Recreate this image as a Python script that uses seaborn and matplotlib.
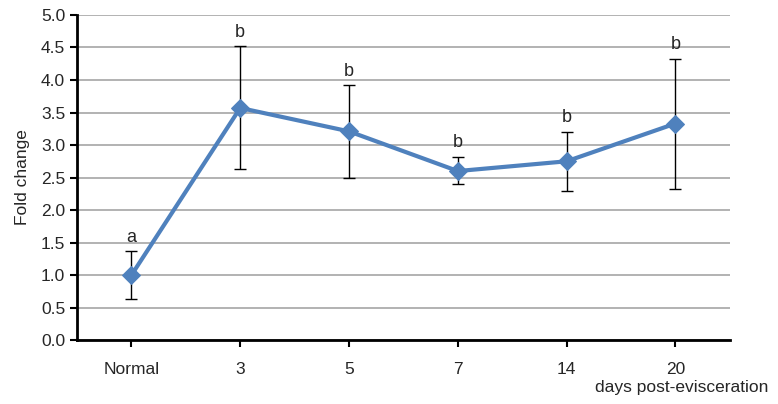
import pandas as pd
import numpy as np
import matplotlib.pyplot as plt
import seaborn as sns

groups = ['Normal', '3', '5', '7', '14', '20']
fold_change = [1.00, 3.57, 3.21, 2.60, 2.75, 3.33]
err_low = [0.37, 0.94, 0.71, 0.20, 0.45, 1.00]
err_high = [0.37, 0.95, 0.71, 0.22, 0.45, 1.00]
letters = ['a', 'b', 'b', 'b', 'b', 'b']

sns.set_style('white')
plt.rcParams['font.family'] = ['Liberation Sans', 'DejaVu Sans']

df = pd.DataFrame({'pos': np.arange(len(groups)), 'fold': fold_change})

fig, ax = plt.subplots(figsize=(7.78, 4.04), dpi=100)
fig.subplots_adjust(left=0.099, right=0.938, top=0.963, bottom=0.158)

ax.yaxis.grid(True, color='#a6a6a6', linewidth=1.2)
ax.set_axisbelow(True)

ax.errorbar(df['pos'], df['fold'], yerr=[err_low, err_high], fmt='none',
            ecolor='black', elinewidth=1, capsize=4, capthick=1, zorder=2)
sns.lineplot(data=df, x='pos', y='fold', marker='D', markersize=9,
             color='#4f81bd', markeredgecolor='#4f81bd', linewidth=3, ax=ax, zorder=3)

for i, lab in enumerate(letters):
    ax.annotate(lab, (df['pos'][i], fold_change[i] + err_high[i]),
                xytext=(0, 4), textcoords='offset points',
                ha='center', va='bottom', fontsize=13)

ax.set_xlim(-0.5, 5.5)
ax.set_ylim(0, 5.0)
ax.set_yticks(np.arange(0, 5.01, 0.5))
ax.set_yticklabels([f'{v:.1f}' for v in np.arange(0, 5.01, 0.5)], fontsize=12.5)
ax.set_xticks(df['pos'])
ax.set_xticklabels(groups, fontsize=12.5)
ax.tick_params(axis='both', direction='out', length=5, width=1.5, color='black',
               bottom=True, left=True)
ax.tick_params(axis='x', pad=11)

for s in ['top', 'right']:
    ax.spines[s].set_visible(False)
for s in ['left', 'bottom']:
    ax.spines[s].set_color('black')
    ax.spines[s].set_linewidth(2)

ax.set_xlabel('')
ax.set_ylabel('Fold change', fontsize=12.5, labelpad=8)
fig.text(0.988, 0.022, 'days post-evisceration', ha='right', va='bottom', fontsize=12.5)

plt.savefig('out.png', dpi=100)
